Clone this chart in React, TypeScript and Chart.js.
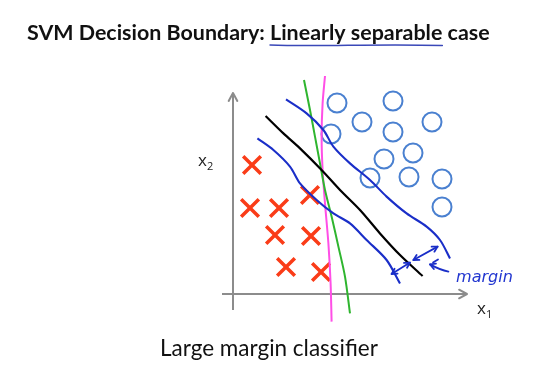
import React, { useEffect, useRef } from "react";
import { Chart, registerables } from "chart.js";

Chart.register(...registerables);

// ---- text ----
const TITLE = "SVM Decision Boundary: Linearly separable case";
const TITLE_PREFIX = "SVM Decision Boundary: ";
const TITLE_UNDERLINED = "Linearly separable";
const SUBTITLE = "Large margin classifier";
const X1_LABEL = ["x", "1"];
const X2_LABEL = ["x", "2"];
const MARGIN_LABEL = "margin";

// ---- data (feature space units) ----
const negX = [0.95, 0.85, 2.3, 3.85, 2.1, 3.9, 2.65, 4.4];
const negY = [6.45, 4.3, 4.3, 4.95, 2.95, 2.9, 1.35, 1.1];

const posX = [5.2, 8.0, 6.45, 8.0, 9.95, 4.9, 9.0, 7.55, 6.85, 8.8, 10.45, 10.45];
const posY = [9.55, 9.65, 8.6, 8.1, 8.6, 8.0, 7.05, 6.75, 5.8, 5.85, 5.75, 4.35];

const svmX = [1.63, 2.52, 3.35, 4.43, 5.35, 6.35, 7.35, 8.35, 9.48];
const svmY = [8.9, 8.03, 7.28, 6.2, 5.2, 4.2, 3.03, 1.95, 0.9];

const upperX = [2.65, 3.68, 4.52, 5.02, 5.85, 6.85, 7.68, 8.68, 9.68, 10.35, 10.85];
const upperY = [9.73, 9.03, 8.2, 7.37, 6.53, 5.7, 4.87, 4.03, 3.37, 2.7, 1.78];

const lowerX = [1.22, 2.02, 2.85, 3.35, 4.18, 5.02, 5.85, 6.68, 7.68, 8.35];
const lowerY = [7.78, 7.2, 6.37, 5.53, 4.7, 4.03, 3.53, 2.7, 1.7, 0.53];

const greenX = [3.55, 3.85, 4.1, 4.35, 4.6, 4.93, 5.27, 5.6, 5.85];
const greenY = [10.7, 9.2, 7.87, 6.53, 5.2, 3.87, 2.37, 0.87, -0.97];

const pinkX = [4.6, 4.48, 4.43, 4.48, 4.6, 4.77, 4.88, 4.93];
const pinkY = [10.9, 9.53, 7.87, 6.2, 4.53, 2.53, 0.53, -1.38];

const xAxisX = [-0.55, 11.7];
const xAxisY = [0, 0];
const yAxisX = [0, 0];
const yAxisY = [-0.8, 10.05];

// double-headed margin arrows and pointer arrow: [x0, y0, x1, y1]
const marginArrow1 = [7.93, 1.0, 8.85, 1.57];
const marginArrow2 = [9.02, 1.7, 10.23, 2.37];
const pointerArrow = [10.77, 1.12, 9.85, 1.48];

// label anchors
const x2Pos = [-1.75, 6.4];
const x1Pos = [12.2, -1.0];
const marginPos = [11.15, 0.6];

// view range
const X_MIN = -11.65;
const X_MAX = 16.15;
const Y_MIN = -3.85;
const Y_MAX = 14.7;

const pts = (xs: number[], ys: number[]) => xs.map((x, i) => ({ x, y: ys[i] }));

const fitFont = (ctx: CanvasRenderingContext2D, text: string, style: string, family: string, target: number, base: number) => {
  ctx.font = `${style} ${base}px ${family}`;
  const w = ctx.measureText(text).width;
  const size = (base * target) / w;
  ctx.font = `${style} ${size}px ${family}`;
  return size;
};

const drawHead = (ctx: CanvasRenderingContext2D, fx: number, fy: number, tx: number, ty: number, size: number) => {
  const a = Math.atan2(ty - fy, tx - fx);
  ctx.beginPath();
  ctx.moveTo(tx - size * Math.cos(a - 0.5), ty - size * Math.sin(a - 0.5));
  ctx.lineTo(tx, ty);
  ctx.lineTo(tx - size * Math.cos(a + 0.5), ty - size * Math.sin(a + 0.5));
  ctx.stroke();
};

const decorPlugin = {
  id: "decor",
  afterDatasetsDraw(chart: any) {
    const ctx: CanvasRenderingContext2D = chart.ctx;
    const sx = chart.scales.x;
    const sy = chart.scales.y;
    const px = (v: number) => sx.getPixelForValue(v);
    const py = (v: number) => sy.getPixelForValue(v);
    ctx.save();
    ctx.lineCap = "round";
    ctx.lineJoin = "round";

    // axis arrowheads
    ctx.strokeStyle = "#8c8c8c";
    ctx.lineWidth = 2;
    drawHead(ctx, px(xAxisX[0]), py(xAxisY[0]), px(xAxisX[1]), py(xAxisY[1]), 9);
    drawHead(ctx, px(yAxisX[0]), py(yAxisY[0]), px(yAxisX[1]), py(yAxisY[1]), 9);

    // margin arrows
    ctx.strokeStyle = "#1a2ec8";
    ctx.lineWidth = 1.8;
    for (const a of [marginArrow1, marginArrow2]) {
      const x0 = px(a[0]), y0 = py(a[1]), x1 = px(a[2]), y1 = py(a[3]);
      ctx.beginPath();
      ctx.moveTo(x0, y0);
      ctx.lineTo(x1, y1);
      ctx.stroke();
      drawHead(ctx, x1, y1, x0, y0, 6);
      drawHead(ctx, x0, y0, x1, y1, 6);
    }
    {
      const a = pointerArrow;
      const x0 = px(a[0]), y0 = py(a[1]), x1 = px(a[2]), y1 = py(a[3]);
      ctx.beginPath();
      ctx.moveTo(x0, y0);
      ctx.quadraticCurveTo((x0 + x1) / 2 + 1, (y0 + y1) / 2 + 2, x1, y1);
      ctx.stroke();
      drawHead(ctx, x0, y0, x1, y1, 6);
      ctx.beginPath();
      ctx.moveTo(x1 + 3, y1 - 2);
      ctx.lineTo(x1 + 8, y1 - 5);
      ctx.stroke();
    }

    // margin label
    ctx.fillStyle = "#2236d0";
    ctx.textBaseline = "alphabetic";
    ctx.textAlign = "left";
    fitFont(ctx, MARGIN_LABEL, "italic", "'DejaVu Sans'", 57, 15);
    ctx.fillText(MARGIN_LABEL, px(marginPos[0]), py(marginPos[1]));

    // axis labels
    ctx.fillStyle = "#222";
    for (const [lab, pos] of [[X2_LABEL, x2Pos], [X1_LABEL, x1Pos]] as any) {
      ctx.font = "17px 'Open Sans'";
      const bx = px(pos[0]);
      const by = py(pos[1]);
      ctx.fillText(lab[0], bx, by);
      const w = ctx.measureText(lab[0]).width;
      ctx.font = "11px 'Open Sans'";
      ctx.fillText(lab[1], bx + w, by + 4);
    }

    // title
    ctx.fillStyle = "#111";
    const titleLeft = 27;
    fitFont(ctx, TITLE, "bold", "Lato", 463, 22);
    ctx.fillText(TITLE, titleLeft, 40);
    const uStart = titleLeft + ctx.measureText(TITLE_PREFIX).width;
    const uEnd = uStart + ctx.measureText(TITLE_UNDERLINED).width;
    ctx.strokeStyle = "#3a48b8";
    ctx.lineWidth = 1.5;
    ctx.beginPath();
    ctx.moveTo(uStart, 45);
    ctx.bezierCurveTo(uStart + (uEnd - uStart) * 0.3, 47, uStart + (uEnd - uStart) * 0.6, 43.5, uEnd, 45.5);
    ctx.stroke();

    // subtitle
    fitFont(ctx, SUBTITLE, "normal", "Lato", 218, 23);
    ctx.fillText(SUBTITLE, 160, 356);

    ctx.restore();
  },
};

export default function App() {
  const ref = useRef<HTMLCanvasElement>(null);
  useEffect(() => {
    const canvas = ref.current;
    if (!canvas) return;
    const lineDs = (label: string, xs: number[], ys: number[], color: string, width: number, tension: number) => ({
      label,
      data: pts(xs, ys),
      showLine: true,
      borderColor: color,
      backgroundColor: color,
      borderWidth: width,
      pointRadius: 0,
      tension,
      fill: false,
    });
    const chart = new Chart(canvas, {
      type: "scatter",
      data: {
        datasets: [
          lineDs("SVM boundary", svmX, svmY, "#000000", 2.2, 0.3),
          lineDs("margin upper", upperX, upperY, "#1a2ec8", 2.1, 0.3),
          lineDs("margin lower", lowerX, lowerY, "#1a2ec8", 2.1, 0.3),
          lineDs("green boundary", greenX, greenY, "#2fb52f", 2, 0.3),
          lineDs("magenta boundary", pinkX, pinkY, "#ff4fe6", 2, 0.3),
          {
            label: "y = 0",
            data: pts(negX, negY),
            pointStyle: "crossRot",
            pointRadius: 12.5,
            borderColor: "#fa3c18",
            backgroundColor: "#fa3c18",
            borderWidth: 3.5,
          },
          {
            label: "y = 1",
            data: pts(posX, posY),
            pointStyle: "circle",
            pointRadius: 9.5,
            borderColor: "#4a80d0",
            backgroundColor: "rgba(0,0,0,0)",
            borderWidth: 2,
          },
          lineDs("x1 axis", xAxisX, xAxisY, "#8c8c8c", 2, 0),
          lineDs("x2 axis", yAxisX, yAxisY, "#8c8c8c", 2, 0),
        ],
      },
      options: {
        responsive: false,
        animation: false,
        layout: { padding: 0, autoPadding: false },
        plugins: { legend: { display: false }, tooltip: { enabled: false }, title: { display: false } },
        scales: {
          x: { type: "linear", display: false, min: X_MIN, max: X_MAX },
          y: { type: "linear", display: false, min: Y_MIN, max: Y_MAX },
        },
      },
      plugins: [decorPlugin],
    });
    return () => chart.destroy();
  }, []);
  return (
    <div style={{ position: "fixed", left: 0, top: 0, width: 556, height: 371, background: "#fff" }}>
      <canvas ref={ref} width={556} height={371} />
    </div>
  );
}
